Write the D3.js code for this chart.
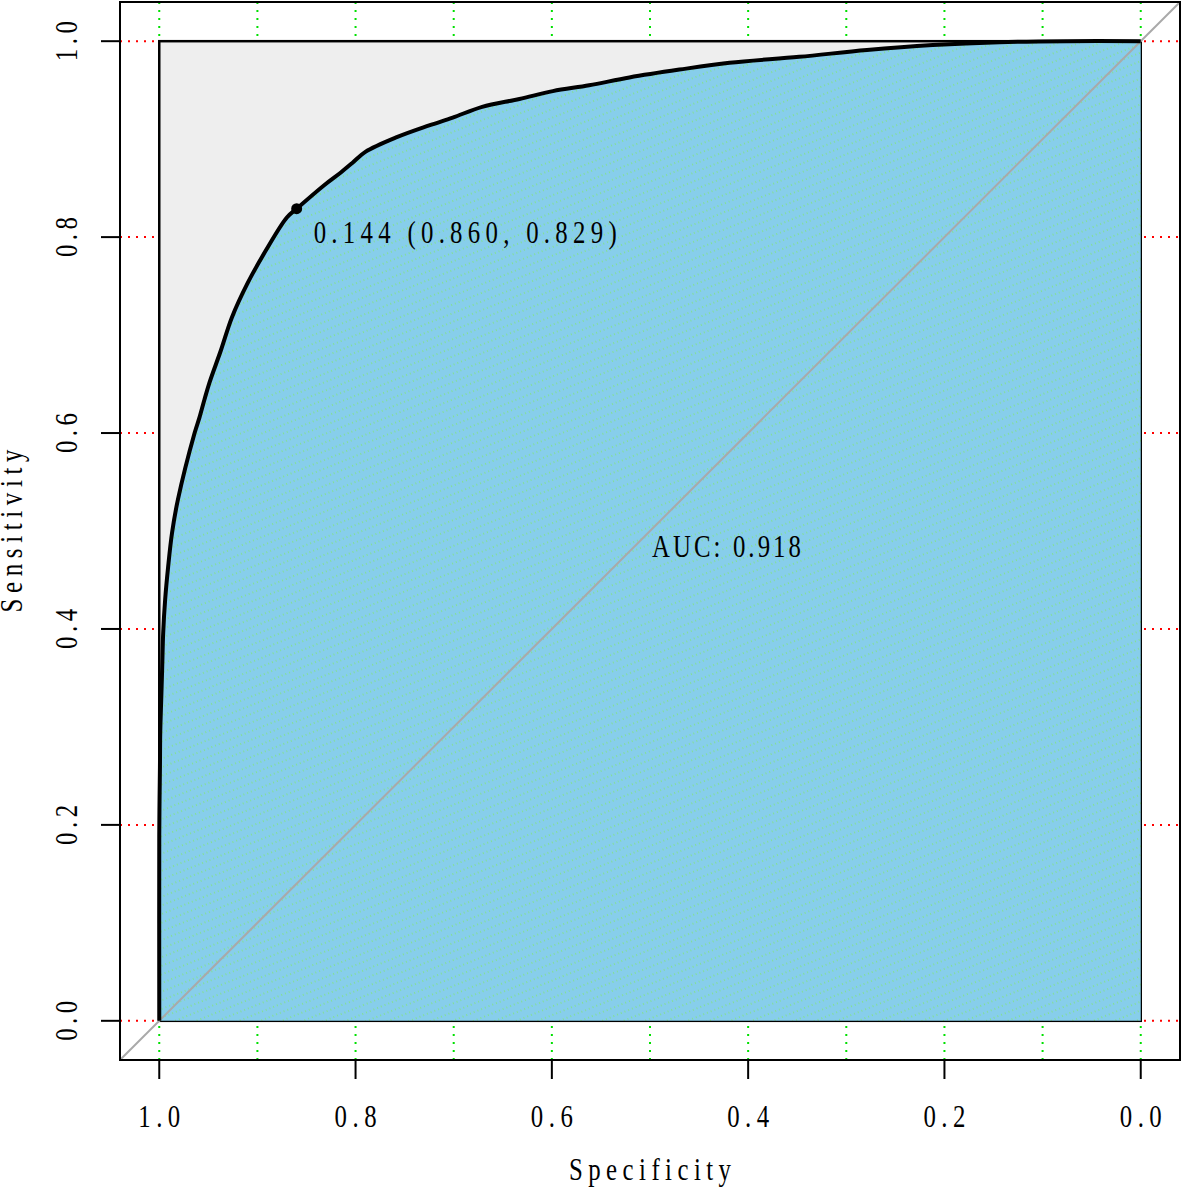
<!DOCTYPE html>
<html>
<head>
    <script src="https://d3js.org/d3.v7.min.js"></script>
    <style>
        body { margin: 0; background: #fff; }
    </style>
</head>
<body>
    <div id="roc"></div>
    <script>
        // ROC curve: specificity / sensitivity
        var specificity = [1.000, 1.000, 0.9997, 0.9993, 0.999, 0.998, 0.997, 0.996, 0.994, 0.991, 0.987,
            0.981, 0.964, 0.959, 0.954, 0.949, 0.937, 0.926, 0.910, 0.891, 0.870, 0.860, 0.832, 0.815,
            0.803, 0.790, 0.758, 0.725, 0.701, 0.671, 0.633, 0.599, 0.562, 0.521, 0.470, 0.419, 0.348,
            0.279, 0.212, 0.144, 0.075, 0.000];
        var sensitivity = [0.000, 0.190, 0.226, 0.259, 0.294, 0.328, 0.361, 0.396, 0.430, 0.463, 0.498,
            0.532, 0.600, 0.616, 0.634, 0.651, 0.685, 0.718, 0.753, 0.787, 0.820, 0.829, 0.853, 0.866,
            0.876, 0.887, 0.902, 0.914, 0.922, 0.933, 0.941, 0.949, 0.955, 0.963, 0.971, 0.978, 0.984,
            0.991, 0.996, 0.999, 1.000, 1.000];

        var bestPoint = { threshold: 0.144, spec: 0.860, sens: 0.829 };
        var aucValue = 0.918;

        var xTicks = [1.0, 0.8, 0.6, 0.4, 0.2, 0.0];
        var yTicks = [0.0, 0.2, 0.4, 0.6, 0.8, 1.0];
        var xGrid = [1.0, 0.9, 0.8, 0.7, 0.6, 0.5, 0.4, 0.3, 0.2, 0.1, 0.0];

        var width = 1182, height = 1188;

        var svg = d3.select("#roc")
            .append("svg")
            .attr("width", width)
            .attr("height", height);

        // R style 4% padding around the data range
        var x = d3.scaleLinear().domain([1.04, -0.04]).range([120, 1180]);
        var y = d3.scaleLinear().domain([-0.04, 1.04]).range([1060, 2]);

        var defs = svg.append("defs");
        var pat = defs.append("pattern")
            .attr("id", "hatch")
            .attr("patternUnits", "userSpaceOnUse")
            .attr("width", 24)
            .attr("height", 8)
            .attr("patternTransform", "rotate(-22)");
        pat.append("rect")
            .attr("width", 24).attr("height", 8)
            .attr("fill", "#87CEEB");
        pat.append("line")
            .attr("x1", 0).attr("x2", 24).attr("y1", 4).attr("y2", 4)
            .attr("stroke", "#7CFC00")
            .attr("stroke-width", 1)
            .attr("stroke-dasharray", "1,3")
            .attr("opacity", 0.7);

        defs.append("clipPath").attr("id", "box")
            .append("rect")
            .attr("x", x(1.04)).attr("y", y(1.04))
            .attr("width", x(-0.04) - x(1.04))
            .attr("height", y(-0.04) - y(1.04));

        // grid lines
        svg.selectAll(".vgrid")
            .data(xGrid)
            .enter().append("line")
            .attr("x1", function (d) { return x(d); })
            .attr("x2", function (d) { return x(d); })
            .attr("y1", y(1.04)).attr("y2", y(-0.04))
            .attr("stroke", "#00E000")
            .attr("stroke-width", 2)
            .attr("stroke-dasharray", "2,6");

        svg.selectAll(".hgrid")
            .data(yTicks)
            .enter().append("line")
            .attr("y1", function (d) { return y(d); })
            .attr("y2", function (d) { return y(d); })
            .attr("x1", x(1.04)).attr("x2", x(-0.04))
            .attr("stroke", "#FF0000")
            .attr("stroke-width", 2)
            .attr("stroke-dasharray", "2,6");

        // max auc area
        svg.append("rect")
            .attr("x", x(1)).attr("y", y(1))
            .attr("width", x(0) - x(1))
            .attr("height", y(0) - y(1))
            .attr("fill", "#EEEEEE")
            .attr("stroke", "#000")
            .attr("stroke-width", 2.5);

        var pts = specificity.map(function (s, i) { return [s, sensitivity[i]]; });
        var rocLine = d3.line()
            .curve(d3.curveCatmullRom.alpha(0.5))
            .x(function (d) { return x(d[0]); })
            .y(function (d) { return y(d[1]); });
        var rocPath = rocLine(pts);

        // auc polygon
        svg.append("path")
            .attr("fill", "url(#hatch)")
            .attr("d", rocPath + "L" + x(0) + "," + y(0) + "L" + x(1) + "," + y(0) + "Z");

        // chance diagonal
        svg.append("line")
            .attr("clip-path", "url(#box)")
            .attr("x1", x(1.04)).attr("y1", y(-0.04))
            .attr("x2", x(-0.04)).attr("y2", y(1.04))
            .attr("stroke", "#A9A9A9")
            .attr("stroke-width", 2);

        // roc curve
        svg.append("path")
            .attr("fill", "none")
            .attr("stroke", "#000")
            .attr("stroke-width", 4)
            .attr("stroke-linejoin", "round")
            .attr("d", rocPath);

        svg.append("circle")
            .attr("cx", x(bestPoint.spec))
            .attr("cy", y(bestPoint.sens))
            .attr("r", 5.5)
            .attr("fill", "#000");

        // text helper: narrow serif glyphs, stretched spacing
        function label(str, px, py, w, anchor, rot) {
            var sx = 0.8;
            var g = svg.append("g")
                .attr("transform", "translate(" + px + "," + py + ") rotate(" + (rot || 0) + ") scale(" + sx + ",1)");
            g.append("text")
                .attr("text-anchor", anchor || "start")
                .attr("textLength", w / sx)
                .attr("lengthAdjust", "spacing")
                .style("font-family", "'Liberation Serif', 'DejaVu Serif', serif")
                .style("font-size", "31px")
                .attr("fill", "#000")
                .text(str);
        }

        label(bestPoint.threshold.toFixed(3) + " (" + bestPoint.spec.toFixed(3) + ", " + bestPoint.sens.toFixed(3) + ")",
            x(bestPoint.spec) + 17, y(bestPoint.sens) + 34, 303, "start");
        label("AUC: " + aucValue.toFixed(3), x(0.5) + 2, y(0.5) + 26, 149, "start");

        // axes
        svg.selectAll(".xtick")
            .data(xTicks)
            .enter().append("line")
            .attr("x1", function (d) { return x(d); })
            .attr("x2", function (d) { return x(d); })
            .attr("y1", y(-0.04)).attr("y2", y(-0.04) + 19)
            .attr("stroke", "#000").attr("stroke-width", 2);
        xTicks.forEach(function (d) {
            label(d.toFixed(1), x(d), 1127, 42, "middle");
        });

        svg.selectAll(".ytick")
            .data(yTicks)
            .enter().append("line")
            .attr("y1", function (d) { return y(d); })
            .attr("y2", function (d) { return y(d); })
            .attr("x1", x(1.04)).attr("x2", x(1.04) - 19)
            .attr("stroke", "#000").attr("stroke-width", 2);
        yTicks.forEach(function (d) {
            label(d.toFixed(1), 77, y(d), 40, "middle", -90);
        });

        label("Specificity", (x(1) + x(0)) / 2, 1180, 162, "middle");
        label("Sensitivity", 22, (y(0) + y(1)) / 2, 163, "middle", -90);

        // plot box
        svg.append("rect")
            .attr("x", x(1.04)).attr("y", y(1.04))
            .attr("width", x(-0.04) - x(1.04))
            .attr("height", y(-0.04) - y(1.04))
            .attr("fill", "none")
            .attr("stroke", "#000")
            .attr("stroke-width", 2);
    </script>
</body>
</html>
